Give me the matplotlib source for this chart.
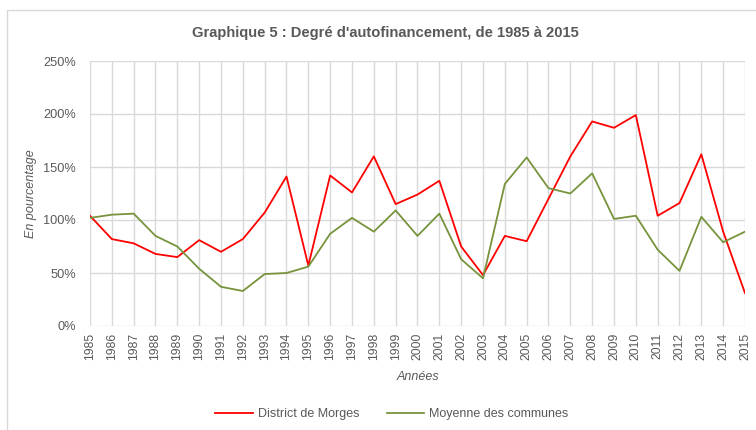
import matplotlib
matplotlib.use('Agg')
import matplotlib.pyplot as plt
from matplotlib.patches import Rectangle
from matplotlib.ticker import FuncFormatter

years = list(range(1985, 2016))
morges = [104, 82, 78, 68, 65, 81, 70, 82, 107, 141, 57, 142, 126, 160, 115, 124, 137,
          75, 48, 85, 80, 120, 160, 193, 187, 199, 104, 116, 162, 89, 31]
communes = [102, 105, 106, 85, 75, 54, 37, 33, 49, 50, 56, 87, 102, 89, 109, 85, 106,
            63, 45, 134, 159, 130, 125, 144, 101, 104, 72, 52, 103, 79, 89]

plt.rcParams['font.family'] = ['Liberation Sans Narrow', 'Liberation Sans', 'DejaVu Sans']
grey = '#595959'

fig = plt.figure(figsize=(7.56, 4.30), dpi=100)
ax = fig.add_axes([90 / 756, 1 - 326 / 430, 655 / 756, 265 / 430])

# chart frame (partly cut off at right/bottom like the screenshot)
fig.patches.append(Rectangle((7 / 756, -0.05), 1.0, 1 - 10 / 430 + 0.05,
                             transform=fig.transFigure, fill=False,
                             edgecolor='#d9d9d9', linewidth=1.0))

ax.plot(years, morges, color='#ff0000', lw=1.3, label='District de Morges')
ax.plot(years, communes, color='#77933c', lw=1.3, label='Moyenne des communes')

ax.set_xlim(1985, 2015)
ax.set_ylim(0, 250)
ax.set_xticks(years)
ax.set_xticklabels([str(y) for y in years], rotation=90, fontsize=8.8, color=grey)
ax.set_yticks(range(0, 251, 50))
ax.yaxis.set_major_formatter(FuncFormatter(lambda v, p: '%d%%' % v))
ax.tick_params(axis='y', length=0, labelsize=9.2, labelcolor=grey, pad=10)
ax.tick_params(axis='x', length=0, pad=5)
ax.grid(True, color='#d9d9d9', linewidth=1.0)
ax.set_axisbelow(True)
for s in ax.spines.values():
    s.set_visible(False)

ax.set_ylabel('En pourcentage', fontsize=9, color=grey, style='italic')
ax.yaxis.set_label_coords(-0.081, 0.5)
ax.set_xlabel('Années', fontsize=9, color=grey, style='italic', labelpad=8)
fig.text(385 / 756, 1 - 33 / 430, "Graphique 5 : Degré d'autofinancement, de 1985 à 2015",
         ha='center', va='center', fontsize=10.6, fontweight='bold', color=grey)

fig.legend(loc='center', bbox_to_anchor=(392 / 756, 1 - 414 / 430), ncol=2,
           frameon=False, fontsize=9, labelcolor=grey, handlelength=3.0,
           handletextpad=0.4, columnspacing=2.2)

fig.savefig('out.png', dpi=100)
